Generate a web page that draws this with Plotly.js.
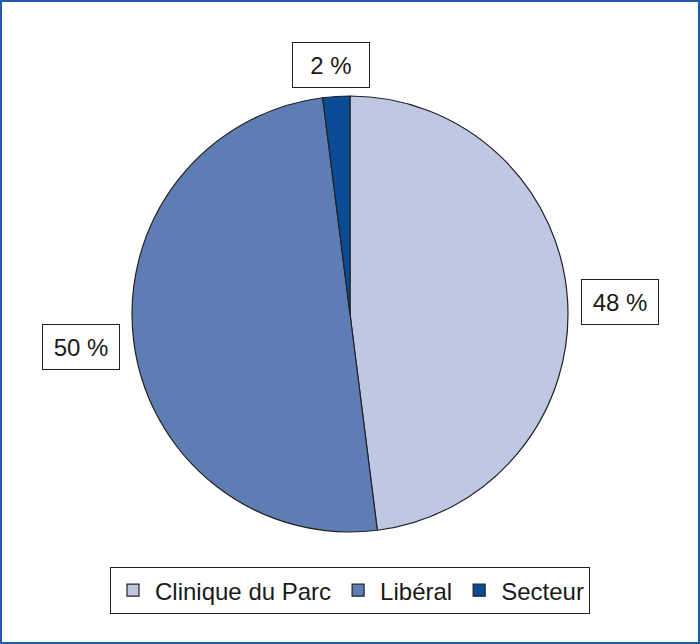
<!DOCTYPE html>
<html>
<head>
<meta charset="utf-8">
<script src="https://cdn.plot.ly/plotly-3.0.1.min.js"></script>
<style>
html,body{margin:0;padding:0;background:#fff;}
#chart{width:696px;height:640px;border:2px solid #1d5ea6;}
</style>
</head>
<body>
<div id="chart"></div>
<script>
var categories = ["Clinique du Parc", "Libéral", "Secteur"];
var values = [48, 50, 2];
var colors = ["#bfc8e3", "#5f7db5", "#0a4d96"];
var labelPos = [[0.8879, 0.532], [0.1142, 0.4609], [0.472, 0.9008]];

var fontFam = "Liberation Sans, Arial, Helvetica, sans-serif";

var annotations = values.map(function (v, i) {
  return {
    xref: "paper", yref: "paper",
    x: labelPos[i][0], y: labelPos[i][1],
    xanchor: "center", yanchor: "middle",
    text: v + " %",
    showarrow: false,
    font: {family: fontFam, size: 24, color: "#1a1a1a"},
    bordercolor: "#222", borderwidth: 1,
    width: 74, height: 42,
    bgcolor: "#fff"
  };
});

var data = [{
  type: "pie",
  labels: categories,
  values: values,
  sort: false,
  direction: "clockwise",
  rotation: 0,
  textinfo: "none",
  hoverinfo: "label+percent",
  marker: {colors: colors, line: {color: "#222", width: 1.2}},
  domain: {x: [0.1868, 0.8132], y: [0.1719, 0.8531]}
}];

var layout = {
  width: 696, height: 640,
  margin: {l: 0, r: 0, t: 0, b: 0},
  paper_bgcolor: "#fff",
  showlegend: true,
  legend: {
    orientation: "h",
    x: 0.5, xanchor: "center",
    y: 0.117, yanchor: "top",
    font: {family: fontFam, size: 24, color: "#1a1a1a"},
    bordercolor: "#222", borderwidth: 1,
    bgcolor: "#fff",
    traceorder: "normal",
    itemwidth: 34
  },
  annotations: annotations
};

Plotly.newPlot("chart", data, layout, {displayModeBar: false, staticPlot: true});
</script>
</body>
</html>
